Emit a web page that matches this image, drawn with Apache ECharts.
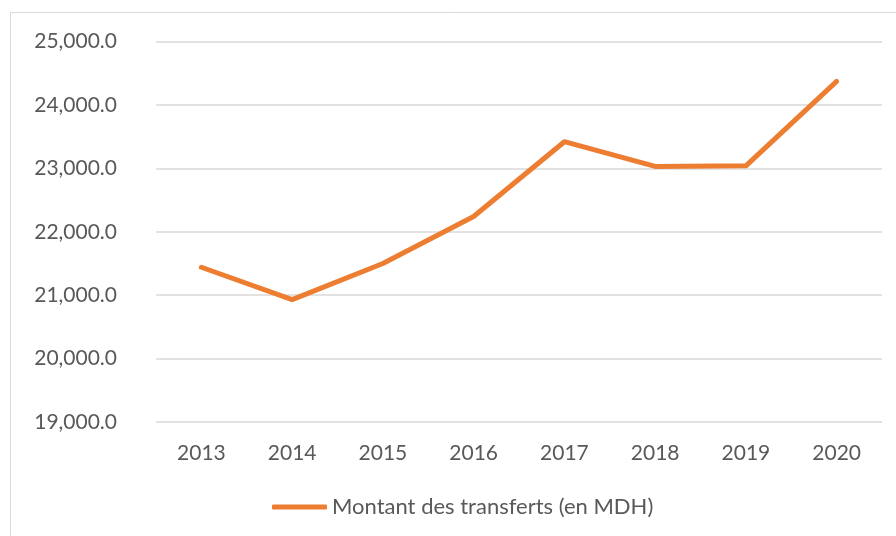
<!DOCTYPE html>
<html>
<head>
<meta charset="utf-8">
<script src="https://cdn.jsdelivr.net/npm/echarts@6/dist/echarts.min.js"></script>
<style>
html,body{margin:0;padding:0;background:#fff;}
#main{width:896px;height:536px;}
</style>
</head>
<body>
<div id="main"></div>
<script>
var years = ['2013','2014','2015','2016','2017','2018','2019','2020'];
var transferts = [21440, 20930, 21500, 22240, 23420, 23030, 23040, 24370];
var seriesName = 'Montant des transferts (en MDH)';

var chart = echarts.init(document.getElementById('main'));
var textColor = '#595959';
var fontFam = 'Lato, "Open Sans", sans-serif';

chart.setOption({
    animation: false,
    graphic: [{
        type: 'rect',
        shape: {x: 10.5, y: 12.5, width: 1000, height: 1000},
        style: {fill: 'none', stroke: '#d9d9d9', lineWidth: 1}
    }],
    grid: {left: 156, right: 14, top: 41.5, bottom: 114, containLabel: false},
    legend: {
        bottom: 13,
        left: 267,
        itemWidth: 55,
        itemHeight: 5,
        itemGap: 4,
        icon: 'roundRect',
        textStyle: {color: textColor, fontSize: 22, fontFamily: fontFam},
        data: [seriesName]
    },
    xAxis: {
        type: 'category',
        data: years,
        boundaryGap: true,
        axisLine: {show: false},
        axisTick: {show: false},
        axisLabel: {color: textColor, fontSize: 21, fontFamily: fontFam, margin: 21}
    },
    yAxis: {
        type: 'value',
        min: 19000,
        max: 25000,
        interval: 1000,
        axisLine: {show: false},
        axisTick: {show: false},
        splitLine: {lineStyle: {color: '#d9d9d9', width: 1.5}},
        axisLabel: {
            color: textColor, fontSize: 21, fontFamily: fontFam, margin: 39,
            formatter: function (v) {
                return v.toLocaleString('en-US', {minimumFractionDigits: 1, maximumFractionDigits: 1});
            }
        }
    },
    series: [{
        name: seriesName,
        type: 'line',
        data: transferts,
        symbol: 'none',
        lineStyle: {color: '#ED7D31', width: 5, cap: 'round', join: 'round'},
        itemStyle: {color: '#ED7D31'}
    }]
});
</script>
</body>
</html>
